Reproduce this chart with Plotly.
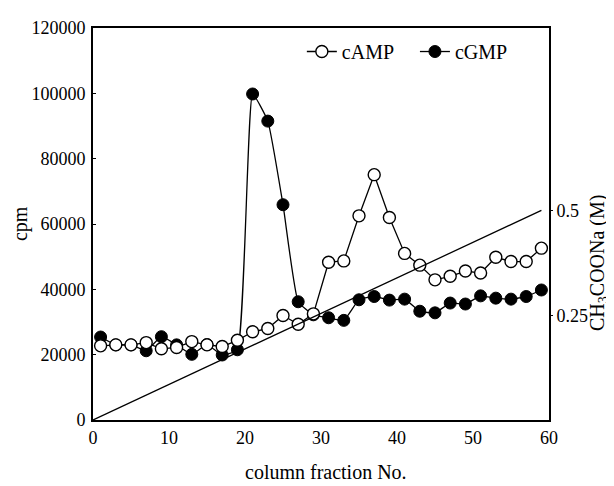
import plotly.graph_objects as go

fractions = [1, 3, 5, 7, 9, 11, 13, 15, 17, 19, 21, 23, 25, 27, 29,
             31, 33, 35, 37, 39, 41, 43, 45, 47, 49, 51, 53, 55, 57, 59]
camp = [22700, 23000, 23000, 23700, 21800, 22200, 24000, 23000, 22500, 24400,
        27000, 28000, 32000, 29300, 32500, 48300, 48700, 62500, 75100, 62000,
        51000, 47400, 42900, 44000, 45600, 45000, 49800, 48500, 48500, 52600]
cgmp = [25400, 23000, 23000, 21200, 25500, 23000, 20100, 23100, 19900, 21500,
        99800, 91500, 65900, 36200, 32200, 31300, 30500, 36800, 37800, 36700,
        37000, 33300, 32800, 35800, 35500, 38000, 37300, 37000, 37800, 39800]
grad_x = [0, 59]
grad_m = [0.0, 0.5]

x_ticks = [0, 10, 20, 30, 40, 50, 60]
y_ticks = [0, 20000, 40000, 60000, 80000, 100000, 120000]
y_tick_text = ["0", "20000", "40000", "60000", "80000", "100000", "120000"]
y2_ticks = [0.25, 0.5]
y2_tick_text = ["0.25", "0.5"]

FONT = "Liberation Serif"

fig = go.Figure()
fig.add_trace(go.Scatter(
    x=grad_x, y=grad_m, yaxis="y2", mode="lines",
    line=dict(color="black", width=1.3), showlegend=False, hoverinfo="skip"))
fig.add_trace(go.Scatter(
    x=fractions, y=cgmp, mode="lines+markers", name="cGMP", legend="legend2",
    line=dict(color="black", width=1.3, shape="spline", smoothing=0.4),
    marker=dict(symbol="circle", size=12, color="black",
                line=dict(color="black", width=1))))
fig.add_trace(go.Scatter(
    x=fractions, y=camp, mode="lines+markers", name="cAMP", legend="legend",
    line=dict(color="black", width=1.3),
    marker=dict(symbol="circle", size=12, color="white",
                line=dict(color="black", width=1.4))))

legend_style = dict(orientation="h", yanchor="middle", xanchor="left",
                    font=dict(family=FONT, size=20),
                    bgcolor="rgba(0,0,0,0)", itemwidth=30)

fig.update_layout(
    width=606, height=478,
    margin=dict(l=85, r=65, t=10, b=66),
    paper_bgcolor="white", plot_bgcolor="white",
    font=dict(family=FONT, size=18, color="black"),
    showlegend=True,
    legend=dict(x=0.458, y=0.94, **legend_style),
    legend2=dict(x=0.706, y=0.94, **legend_style),
    xaxis=dict(range=[0, 60], tickvals=x_ticks, showgrid=False, zeroline=False,
               showline=True, linecolor="black", linewidth=2, mirror=True,
               ticks="", tickfont=dict(family=FONT, size=18)),
    yaxis=dict(range=[0, 120000], tickvals=y_ticks, ticktext=y_tick_text,
               showgrid=False, zeroline=False,
               showline=True, linecolor="black", linewidth=2, mirror=True,
               ticks="inside", ticklen=3, tickcolor="black", ticklabelstandoff=2,
               tickfont=dict(family=FONT, size=18)),
    yaxis2=dict(range=[0, 0.935], tickvals=y2_ticks, ticktext=y2_tick_text,
                overlaying="y", side="right", showgrid=False, zeroline=False,
                showline=False, ticks="outside", ticklen=3, tickcolor="black",
                tickfont=dict(family=FONT, size=18)),
    annotations=[
        dict(text="cpm", xref="paper", yref="paper", x=-0.16, y=0.5,
             xanchor="center", yanchor="middle", textangle=-90, showarrow=False,
             font=dict(family=FONT, size=20)),
        dict(text="column fraction No.", xref="paper", yref="paper", x=0.51, y=-0.133,
             xanchor="center", yanchor="middle", showarrow=False,
             font=dict(family=FONT, size=20)),
        dict(text="CH<sub>3</sub>COONa (M)", xref="paper", yref="paper", x=1.107, y=0.4,
             xanchor="center", yanchor="middle", textangle=-90, showarrow=False,
             font=dict(family=FONT, size=20)),
    ],
)

fig.write_html("out.html")
